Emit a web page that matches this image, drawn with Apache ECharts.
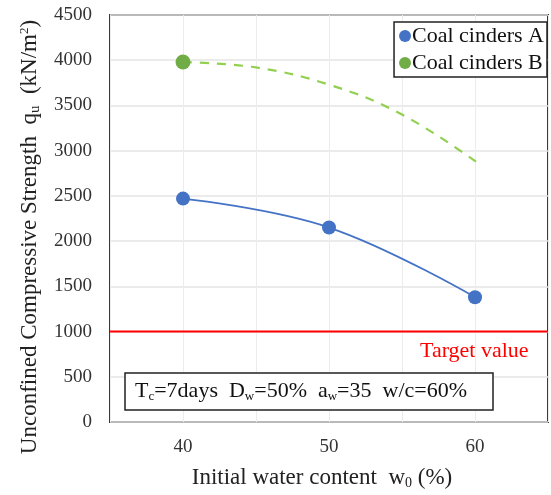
<!DOCTYPE html>
<html>
<head>
<meta charset="utf-8">
<script src="https://cdn.jsdelivr.net/npm/echarts@6/dist/echarts.min.js"></script>
<style>
  html, body { margin: 0; padding: 0; background: #fff; }
  #chart { width: 551px; height: 495px; }
</style>
</head>
<body>
<div id="chart"></div>
<script>
// Initial water content w0 (%) and unconfined compressive strength qu (kN/m2)
const waterContentA = [40, 50, 60];
const strengthA = [2470, 2150, 1380];
// Coal cinders B: measured at 40 %, dashed trend beyond it
const waterContentB = [40, 45, 50, 55, 60.5];
const strengthB = [3980, 3920, 3730, 3400, 2830];
const targetValue = 1000;
const xTicks = [40, 50, 60];

const serif = '"Liberation Serif", "Times New Roman", serif';
const chart = echarts.init(document.getElementById('chart'));

const dataA = waterContentA.map((x, i) => [x, strengthA[i]]);
const dataB = waterContentB.map((x, i) => i === 0
  ? { value: [x, strengthB[i]] }
  : { value: [x, strengthB[i]], symbol: 'none' });

chart.setOption({
  animation: false,
  grid: { left: 110, right: 0, top: 15, bottom: 73, show: true, borderColor: '#3a3a3a', borderWidth: 2 },
  legend: {
    orient: 'vertical',
    right: 4, top: 22,
    backgroundColor: '#fff',
    borderColor: '#222', borderWidth: 1.5,
    padding: [3, 3, 3, 5],
    itemGap: 5,
    itemWidth: 12, itemHeight: 12,
    icon: 'circle',
    textStyle: { fontFamily: serif, fontSize: 22, color: '#111', padding: [0, 0, 0, -4] },
    data: ['Coal cinders A', 'Coal cinders B']
  },
  xAxis: {
    type: 'value', min: 35, max: 65, interval: 5,
    axisLine: { show: false },
    axisTick: { show: false },
    splitLine: { show: true, lineStyle: { color: '#ececec', width: 1 } },
    axisLabel: {
      fontFamily: serif, fontSize: 19, color: '#333', margin: 16,
      formatter: v => xTicks.includes(v) ? String(v) : ''
    }
  },
  yAxis: {
    type: 'value', min: 0, max: 4500, interval: 500,
    axisLine: { show: false },
    axisTick: { show: false },
    splitLine: { show: true, lineStyle: { color: '#e4e4e4', width: 1.5 } },
    axisLabel: { fontFamily: serif, fontSize: 19, color: '#333', margin: 18, formatter: v => String(v) }
  },
  series: [
    {
      name: 'Target value', type: 'line', silent: true,
      data: [[35, targetValue], [65, targetValue]],
      symbol: 'none',
      lineStyle: { color: '#ff0000', width: 2 },
      z: 1
    },
    {
      name: 'Coal cinders A', type: 'line', smooth: 0.4,
      data: dataA,
      symbol: 'circle', symbolSize: 14,
      itemStyle: { color: '#4472c4' },
      lineStyle: { color: '#4472c4', width: 1.8 },
      z: 3
    },
    {
      name: 'Coal cinders B', type: 'line', smooth: 0.4,
      data: dataB,
      symbol: 'circle', symbolSize: 15,
      itemStyle: { color: '#70ad47' },
      lineStyle: { color: '#92d050', width: 2.2, type: [9, 8] },
      z: 3
    }
  ],
  graphic: [
    {
      type: 'text', left: 420, top: 340,
      style: { text: 'Target value', font: '22px ' + serif, fill: '#ff0000' }
    },
    {
      type: 'rect', shape: { x: 125, y: 373, width: 368, height: 37 },
      style: { fill: '#fff', stroke: '#222', lineWidth: 1.5 }, z: 10
    },
    {
      type: 'text', x: 135, y: 391, z: 11,
      style: {
        text: 'T{s|c}=7days  D{s|w}=50%  a{s|w}=35  w/c=60%',
        verticalAlign: 'middle',
        font: '22px ' + serif, fill: '#111',
        rich: { s: { fontSize: 13, fontFamily: serif, fill: '#111', padding: [12, 0, 0, 0] } }
      }
    },
    {
      type: 'text', x: 30, y: 237, rotation: Math.PI / 2,
      style: {
        text: 'Unconfined Compressive Strength  q{s|u}  (kN/m{p|2})',
        align: 'center', verticalAlign: 'middle',
        font: '23px ' + serif, fill: '#222',
        rich: {
          s: { fontSize: 15, fontFamily: serif, fill: '#222', padding: [10, 0, 0, 0] },
          p: { fontSize: 13, fontFamily: serif, fill: '#222', padding: [0, 0, 10, 0] }
        }
      }
    },
    {
      type: 'text', x: 322, y: 478,
      style: {
        text: 'Initial water content  w{s|0} (%)',
        align: 'center', verticalAlign: 'middle',
        font: '23px ' + serif, fill: '#222',
        rich: { s: { fontSize: 14, fontFamily: serif, fill: '#222', padding: [10, 0, 0, 0] } }
      }
    }
  ]
});
</script>
</body>
</html>
